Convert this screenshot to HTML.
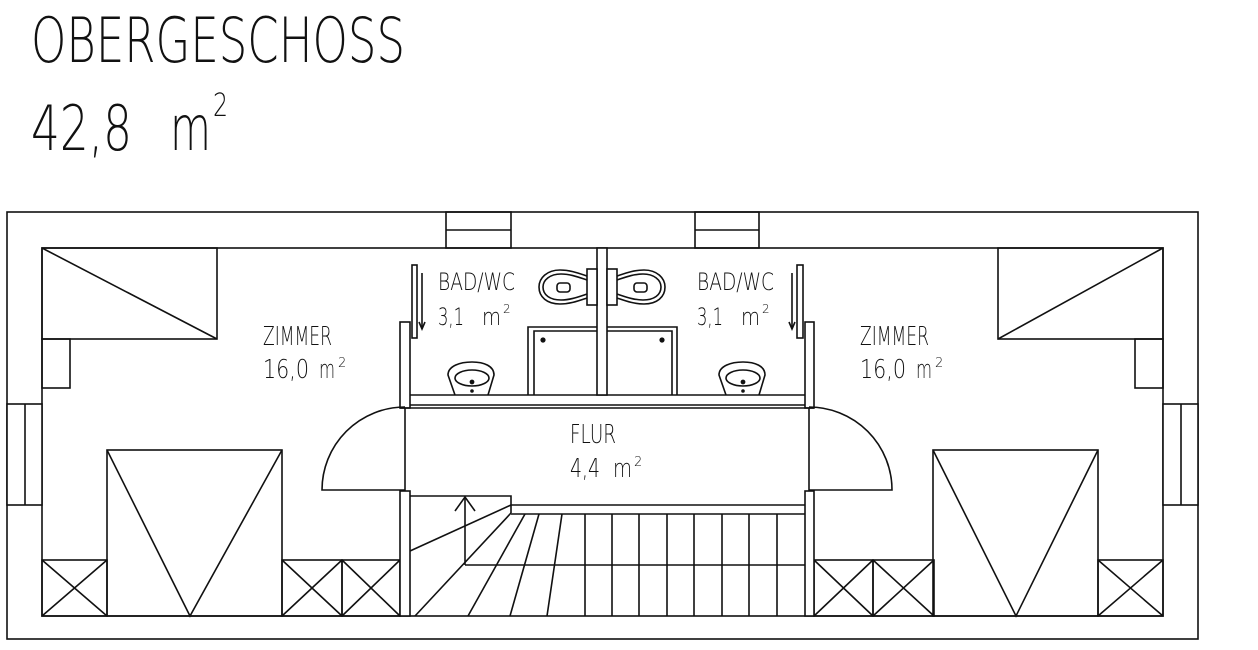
<!DOCTYPE html>
<html><head><meta charset="utf-8"><style>
html,body{margin:0;padding:0;background:#fff}
svg{display:block}
text{font-family:"DejaVu Sans","Liberation Sans",sans-serif;font-weight:200;fill:#111}
</style></head><body>
<svg width="1258" height="650" viewBox="0 0 1258 650" xmlns="http://www.w3.org/2000/svg">
<g stroke="#000" stroke-width="0">
<text x="31" y="62" font-size="62" textLength="374" lengthAdjust="spacingAndGlyphs">OBERGESCHOSS</text>
<text x="31" y="150" font-size="62" textLength="101" lengthAdjust="spacingAndGlyphs">42,8</text>
<text x="170" y="150" font-size="62" textLength="41" lengthAdjust="spacingAndGlyphs">m</text>
<text x="213" y="116" font-size="32" textLength="15" lengthAdjust="spacingAndGlyphs">2</text>

<text x="263" y="345" font-size="26" textLength="69" lengthAdjust="spacingAndGlyphs">ZIMMER</text>
<text x="263" y="378" font-size="26" textLength="46" lengthAdjust="spacingAndGlyphs">16,0</text>
<text x="319" y="378" font-size="26" textLength="16" lengthAdjust="spacingAndGlyphs">m</text>
<text x="338" y="367" font-size="13">2</text>

<text x="860" y="345" font-size="26" textLength="69" lengthAdjust="spacingAndGlyphs">ZIMMER</text>
<text x="860" y="378" font-size="26" textLength="46" lengthAdjust="spacingAndGlyphs">16,0</text>
<text x="916" y="378" font-size="26" textLength="16" lengthAdjust="spacingAndGlyphs">m</text>
<text x="935" y="367" font-size="13">2</text>

<text x="438" y="290" font-size="24" textLength="77" lengthAdjust="spacingAndGlyphs">BAD/WC</text>
<text x="438" y="325" font-size="24" textLength="26" lengthAdjust="spacingAndGlyphs">3,1</text>
<text x="482" y="325" font-size="24" textLength="19" lengthAdjust="spacingAndGlyphs">m</text>
<text x="503" y="313" font-size="12">2</text>

<text x="697" y="290" font-size="24" textLength="77" lengthAdjust="spacingAndGlyphs">BAD/WC</text>
<text x="697" y="325" font-size="24" textLength="26" lengthAdjust="spacingAndGlyphs">3,1</text>
<text x="741" y="325" font-size="24" textLength="19" lengthAdjust="spacingAndGlyphs">m</text>
<text x="762" y="313" font-size="12">2</text>

<text x="570" y="443" font-size="26" textLength="46" lengthAdjust="spacingAndGlyphs">FLUR</text>
<text x="570" y="477" font-size="26" textLength="30" lengthAdjust="spacingAndGlyphs">4,4</text>
<text x="613" y="477" font-size="26" textLength="19" lengthAdjust="spacingAndGlyphs">m</text>
<text x="634" y="466" font-size="13">2</text>
</g>

<g fill="none" stroke="#111" stroke-width="1.6">
<rect x="7" y="212" width="1191" height="427"/>
<rect x="42" y="248" width="1121" height="368"/>
<rect x="446" y="212" width="65" height="36"/><line x1="446" y1="230" x2="511" y2="230"/>
<rect x="695" y="212" width="64" height="36"/><line x1="695" y1="230" x2="759" y2="230"/>
<rect x="7" y="404" width="35" height="101" fill="#fff"/><line x1="25" y1="404" x2="25" y2="505"/>
<rect x="1163" y="404" width="35" height="101" fill="#fff"/><line x1="1181" y1="404" x2="1181" y2="505"/>

<rect x="42" y="248" width="175" height="91"/><line x1="42" y1="248" x2="217" y2="339"/>
<rect x="42" y="339" width="28" height="49"/>
<rect x="998" y="248" width="165" height="91"/><line x1="998" y1="339" x2="1163" y2="248"/>
<rect x="1135" y="339" width="28" height="49"/>

<rect x="107" y="450" width="175" height="166"/><polyline points="107,450 190,616 282,450"/>
<rect x="933" y="450" width="165" height="166"/><polyline points="933,450 1016,616 1098,450"/>

<rect x="42" y="560" width="65" height="56"/><path d="M42 560L107 616M107 560L42 616"/>
<rect x="282" y="560" width="60" height="56"/><path d="M282 560L342 616M342 560L282 616"/>
<rect x="342" y="560" width="58" height="56"/><path d="M342 560L400 616M400 560L342 616"/>
<rect x="814" y="560" width="59" height="56"/><path d="M814 560L873 616M873 560L814 616"/>
<rect x="873" y="560" width="61" height="56"/><path d="M873 560L934 616M934 560L873 616"/>
<rect x="1098" y="560" width="65" height="56"/><path d="M1098 560L1163 616M1163 560L1098 616"/>

<rect x="400" y="322" width="10" height="86" fill="#fff"/>
<rect x="805" y="322" width="9" height="86" fill="#fff"/>
<rect x="400" y="491" width="10" height="125" fill="#fff"/>
<rect x="805" y="491" width="9" height="125" fill="#fff"/>
<line x1="410" y1="395" x2="805" y2="395"/>
<line x1="410" y1="405" x2="805" y2="405"/>
<line x1="400" y1="408" x2="814" y2="408"/>
<rect x="597" y="248" width="10" height="147" fill="#fff"/>

<rect x="412" y="265" width="5" height="73"/>
<line x1="422" y1="273" x2="422" y2="329"/><path d="M419 322L422 329L425 322"/>
<rect x="797" y="265" width="6" height="73"/>
<line x1="792" y1="273" x2="792" y2="329"/><path d="M789 322L792 329L795 322"/>

<!-- toilets -->
<path d="M587 276 C578 273 570 270 560 270 C547 270 539 278 539 287 C539 297 547 304 560 304 C570 304 578 301 587 298" fill="#fff"/>
<path d="M587 280 C578 277 570 274 561 274 C550 274 543 280 543 287 C543 295 550 300 561 300 C570 300 578 297 587 294"/>
<rect x="587" y="269" width="10" height="36" fill="#fff"/>
<rect x="557" y="283" width="13" height="9" rx="3"/>
<path d="M617 276 C626 273 634 270 644 270 C657 270 665 278 665 287 C665 297 657 304 644 304 C634 304 626 301 617 298" fill="#fff"/>
<path d="M617 280 C626 277 634 274 643 274 C654 274 661 280 661 287 C661 295 654 300 643 300 C634 300 626 297 617 294"/>
<rect x="607" y="269" width="10" height="36" fill="#fff"/>
<rect x="634" y="283" width="13" height="9" rx="3"/>

<path d="M528 395V327H597M607 327H677V395"/>
<path d="M534 395V331H597M607 331H672V395"/>
<circle cx="543" cy="340" r="1.8" fill="#111"/>
<circle cx="662" cy="340" r="1.8" fill="#111"/>

<path d="M455 395 L448 375 C448 366 460 362 472 362 C484 362 494 366 494 375 L488 395"/>
<ellipse cx="472" cy="378" rx="17" ry="8"/>
<circle cx="472" cy="382" r="1.6" fill="#111"/><circle cx="472" cy="391" r="1" fill="#111"/>
<path d="M726 395 L719 375 C719 366 731 362 743 362 C755 362 765 366 765 375 L759 395"/>
<ellipse cx="743" cy="378" rx="17" ry="8"/>
<circle cx="743" cy="382" r="1.6" fill="#111"/><circle cx="743" cy="391" r="1" fill="#111"/>

<line x1="405" y1="408" x2="405" y2="491"/>
<path d="M405 490H322A83 83 0 0 1 405 407"/>
<line x1="809" y1="408" x2="809" y2="491"/>
<path d="M809 490H892A83 83 0 0 0 809 407"/>

<path d="M410 496H511V513"/>
<line x1="511" y1="505" x2="805" y2="505"/>
<line x1="511" y1="514" x2="805" y2="514"/>
<line x1="410" y1="551" x2="511" y2="505"/>
<line x1="465" y1="497" x2="465" y2="565"/>
<path d="M455 511L465 497L475 511"/>
<line x1="465" y1="565" x2="805" y2="565"/>
<line x1="415" y1="616" x2="511" y2="513"/>
<line x1="525" y1="514" x2="468" y2="616"/>
<line x1="539" y1="514" x2="510" y2="616"/>
<line x1="562" y1="514" x2="547" y2="616"/>
<path d="M585 514V616M612 514V616M639 514V616M667 514V616M694 514V616M722 514V616M749 514V616M777 514V616"/>
</g>
</svg>
</body></html>
